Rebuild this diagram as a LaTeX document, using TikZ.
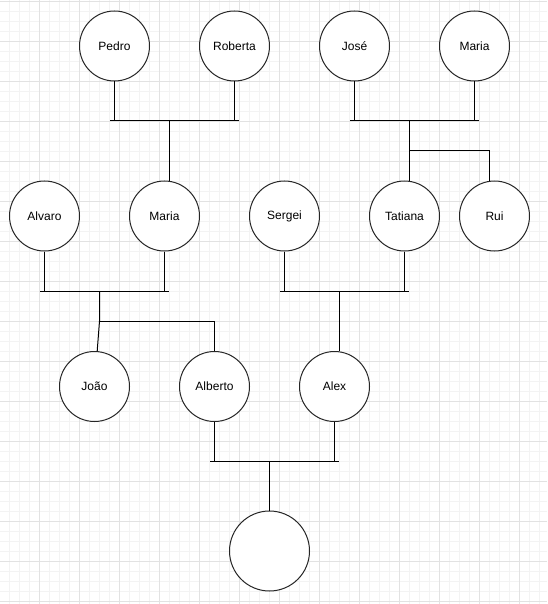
\documentclass[tikz,border=0pt]{standalone}
\usepackage{fontspec}
\setmainfont{Liberation Sans}
\definecolor{gridmajor}{HTML}{E2E2E2}
\definecolor{gridminor}{HTML}{F3F3F3}
\definecolor{outline}{HTML}{262626}
\begin{document}
\begin{tikzpicture}[x=1pt,y=-1pt,
  person/.style={circle, draw=outline, line width=1pt, fill=white,
    minimum size=70pt, inner sep=0pt, font=\fontsize{12}{14}\selectfont},
  link/.style={draw=black, line width=1pt},
  minorline/.style={draw=gridminor, line width=1pt},
  majorline/.style={draw=gridmajor, line width=1pt},
]
\useasboundingbox (0,0) rectangle (547,604);
\fill[white] (0,0) rectangle (547,604);

% background grid: fine lines every 10, heavier every 40
\foreach \x in {9.5,19.5,...,546} \draw[minorline] (\x,0) -- (\x,604);
\foreach \y in {1.5,11.5,...,603} \draw[minorline] (0,\y) -- (547,\y);
\foreach \x in {39.5,79.5,...,546} \draw[majorline] (\x,0) -- (\x,604);
\foreach \y in {1.5,41.5,...,603} \draw[majorline] (0,\y) -- (547,\y);

% first generation
\node[person] (pedro)   at (114.5,46) {Pedro};
\node[person] (roberta) at (234.5,46) {Roberta};
\node[person] (jose)    at (354.5,46) {José};
\node[person] (mariaA)  at (474.5,46) {Maria};

% second generation
\node[person] (alvaro)  at (44.5,216)  {Alvaro};
\node[person] (mariaB)  at (164.5,216) {Maria};
\node[person] (sergei)  at (284.5,216) {Sergei};
\node[person] (tatiana) at (404.5,216) {Tatiana};
\node[person] (rui)     at (494.5,216) {Rui};

% third generation
\node[person] (joao)    at (94.5,386.5)  {João};
\node[person] (alberto) at (214.5,386.5) {Alberto};
\node[person] (alex)    at (334.5,386.5) {Alex};

% fourth generation
\node[person, minimum size=80pt] (child) at (269.5,551) {};

% couple bars and their junction points
\coordinate (barAl) at (110,121);   \coordinate (barAr) at (238.5,121);
\coordinate (barAm) at (169.5,121);
\coordinate (barBl) at (350,121);   \coordinate (barBr) at (478.5,121);
\coordinate (barBm) at (409.5,121);
\coordinate (barCl) at (40,291);    \coordinate (barCr) at (168.5,291);
\coordinate (barCm) at (99.5,291);
\coordinate (barDl) at (280,291);   \coordinate (barDr) at (408.5,291);
\coordinate (barDm) at (339.5,291);
\coordinate (barEl) at (210,461);   \coordinate (barEr) at (339,461);
\coordinate (barEm) at (269.5,461);
\coordinate (forkRui)  at (409.5,151);
\coordinate (forkJoao) at (99.5,321);

% Pedro + Roberta -> Maria
\draw[link] (pedro.south) -- (pedro.south |- barAl);
\draw[link] (roberta.south) -- (roberta.south |- barAl);
\draw[link] (barAl) -- (barAr);
\draw[link] (barAm) -- (barAm |- mariaB.north);

% José + Maria -> Tatiana, Rui
\draw[link] (jose.south) -- (jose.south |- barBl);
\draw[link] (mariaA.south) -- (mariaA.south |- barBl);
\draw[link] (barBl) -- (barBr);
\draw[link] (barBm) -- (barBm |- tatiana.north);
\draw[link] (forkRui) -| ([xshift=-5pt]rui.north);

% Alvaro + Maria -> João, Alberto
\draw[link] (alvaro.south) -- (alvaro.south |- barCl);
\draw[link] (mariaB.south) -- (mariaB.south |- barCl);
\draw[link] (barCl) -- (barCr);
\draw[link] (barCm) -- (forkJoao) -- (joao);
\draw[link] (forkJoao) -| (alberto.north);

% Sergei + Tatiana -> Alex
\draw[link] (sergei.south) -- (sergei.south |- barDl);
\draw[link] (tatiana.south) -- (tatiana.south |- barDl);
\draw[link] (barDl) -- (barDr);
\draw[link] (barDm) -- (barDm |- alex.north);

% Alberto + Alex -> child
\draw[link] (alberto.south) -- (alberto.south |- barEl);
\draw[link] (alex.south) -- (alex.south |- barEl);
\draw[link] (barEl) -- (barEr);
\draw[link] (barEm) -- (child.north);
\end{tikzpicture}
\end{document}
